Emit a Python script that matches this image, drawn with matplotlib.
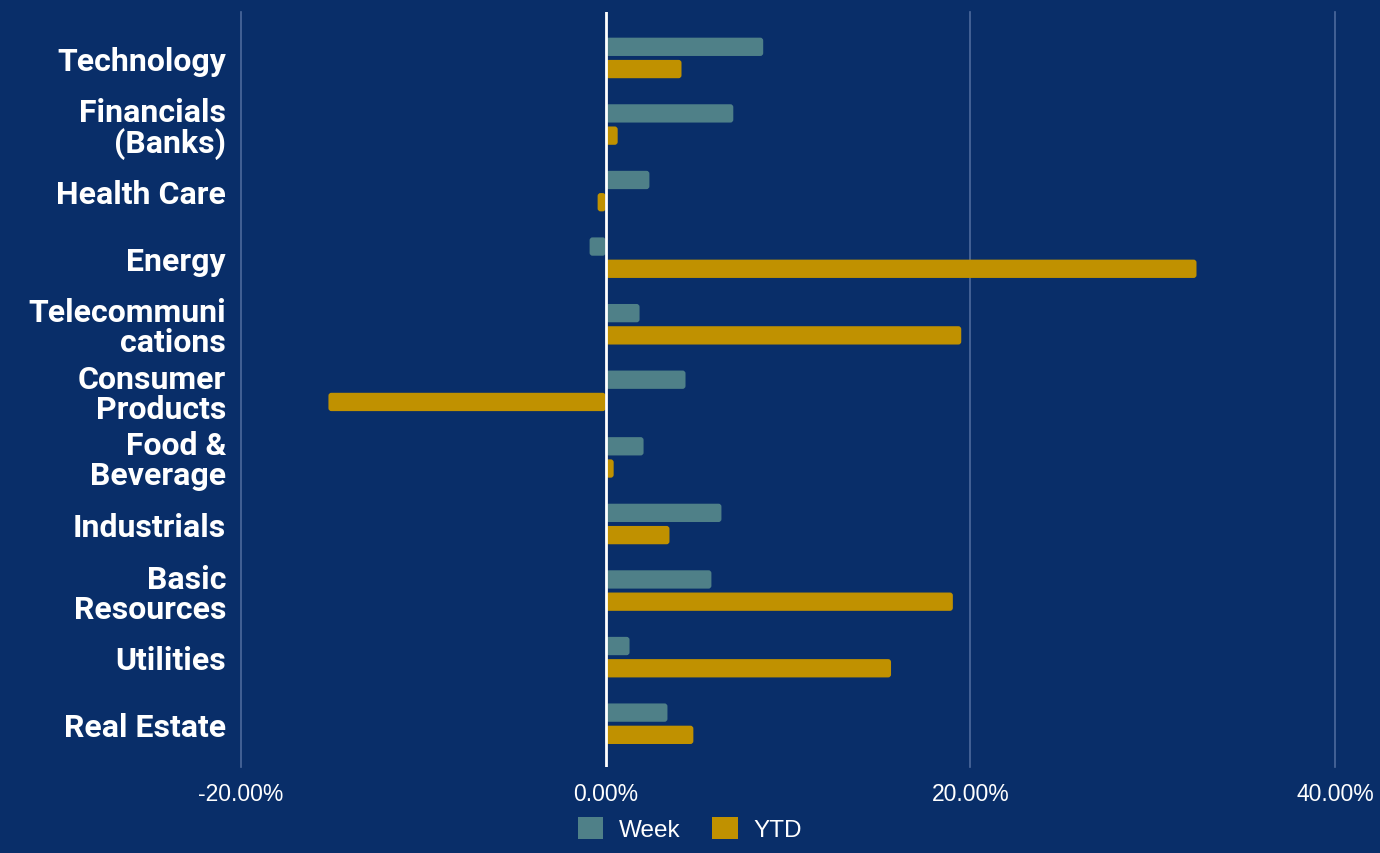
import matplotlib.pyplot as plt
from matplotlib.patches import FancyBboxPatch
from matplotlib.ticker import FuncFormatter

categories = ["Technology", "Financials\n(Banks)", "Health Care", "Energy",
              "Telecommuni\ncations", "Consumer\nProducts", "Food &\nBeverage",
              "Industrials", "Basic\nResources", "Utilities", "Real Estate"]
week = [8.64, 7.0, 2.4, -0.88, 1.86, 4.38, 2.08, 6.35, 5.8, 1.31, 3.39]
ytd = [4.16, 0.66, -0.44, 32.4, 19.5, -15.2, 0.44, 3.5, 19.04, 15.65, 4.81]
xticks = [-20, 0, 20, 40]

bg = "#092E69"
c_week = "#4F8088"
c_ytd = "#C09100"

fig = plt.figure(figsize=(13.8, 8.54), dpi=100, facecolor=bg)
W, H = 1380, 854
ax = fig.add_axes([240 / W, 1 - 768 / H, (1336 - 240) / W, (768 - 13) / H])
ax.set_facecolor(bg)

y = list(range(len(categories)))
h = 0.275
off = 0.167
b1 = ax.barh([i - off for i in y], week, height=h, color=c_week, label="Week")
b2 = ax.barh([i + off for i in y], ytd, height=h, color=c_ytd, label="YTD")

ax.set_xlim(-20.05, 40.05)
ax.set_ylim(10.65, -0.69)

# rounded corners: replace rectangles with fancy boxes
asp = (1096 / 60.1) / (755 / 11.34)
for bars in (b1, b2):
    for r in bars:
        x0, y0, w, hh = r.get_x(), r.get_y(), r.get_width(), r.get_height()
        if w < 0:
            x0, w = x0 + w, -w
        rad = min(0.16, w / 2)
        p = FancyBboxPatch((x0, y0), w, hh,
                           boxstyle=f"round,pad=0,rounding_size={rad}",
                           mutation_aspect=asp, fc=r.get_facecolor(), ec="none",
                           zorder=2)
        r.set_visible(False)
        ax.add_patch(p)

for t in xticks:
    if t != 0:
        ax.axvline(t, color="#4D6A9C", lw=1.2, zorder=1, clip_on=False)
ax.axvline(0, color="white", lw=2, zorder=3)

for s in ax.spines.values():
    s.set_visible(False)

ax.set_xticks(xticks)
ax.xaxis.set_major_formatter(FuncFormatter(lambda v, p: f"{v:.2f}%"))
ax.tick_params(axis="x", length=0, pad=11, labelsize=16.5, labelcolor="white")
for lab in ax.get_xticklabels():
    lab.set_family("Liberation Sans")

ax.set_yticks(y)
ax.set_yticklabels(categories, fontsize=23, fontweight="bold", color="white",
                   family="Roboto", linespacing=1.0)
ax.tick_params(axis="y", length=0, pad=10)

leg = fig.legend(handles=[b1, b2], labels=["Week", "YTD"], loc="center",
                 bbox_to_anchor=(690 / W, 1 - 830 / H), ncol=2, frameon=False,
                 prop={"family": "Liberation Sans", "size": 17.5},
                 handlelength=1.05, handleheight=1.05, columnspacing=1.3,
                 handletextpad=0.65, labelcolor="white")
for hdl in leg.legend_handles:
    hdl.set_visible(True)

fig.savefig("out.png", dpi=100, facecolor=bg)
